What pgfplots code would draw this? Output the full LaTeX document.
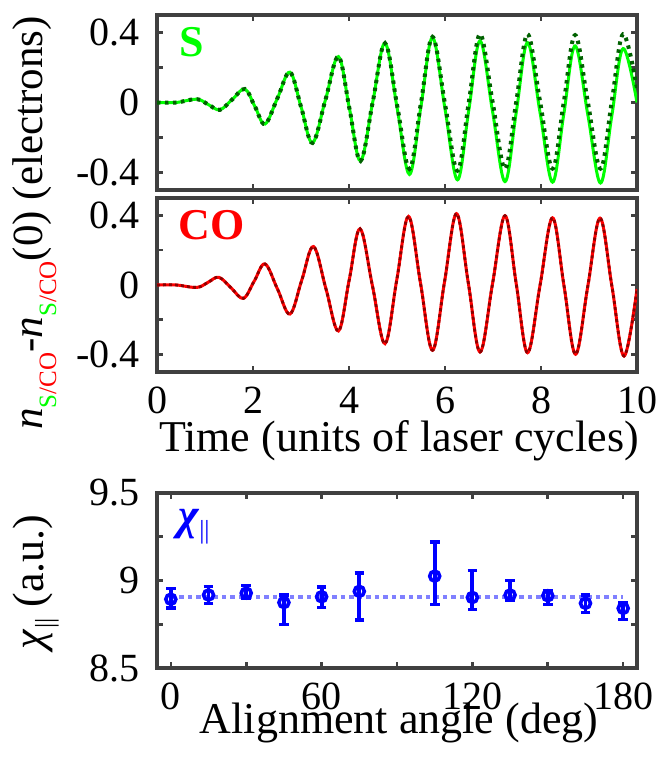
\documentclass[border=0pt]{standalone}
\usepackage{fontspec}
\setmainfont{Liberation Serif}
\usepackage{pgfplots}
\pgfplotsset{compat=1.18}
\usepackage{pgfplotstable}

\definecolor{framegray}{gray}{0.25}
\definecolor{dkgreen}{rgb}{0.0,0.38,0.0}
\definecolor{dkred}{rgb}{0.55,0,0}
\definecolor{fitblue}{rgb}{0.5,0.5,1}

\pgfplotstableread{
t v
0 0
0.4 0
0.83 0.019
1.07 -0.012
1.31 -0.042
1.57 0.018
1.83 0.077
2.04 -0.023
2.25 -0.123
2.51 0.025
2.77 0.173
3.005 -0.029
3.24 -0.231
3.51 0.016
3.78 0.262
4.01 -0.036
4.24 -0.334
4.495 0.003
4.75 0.339
5.005 -0.036
5.26 -0.411
5.5 -0.02
5.74 0.371
6.0 -0.036
6.26 -0.442
6.495 -0.045
6.73 0.352
6.99 -0.05
7.25 -0.452
7.485 -0.055
7.72 0.342
7.98 -0.057
8.24 -0.455
8.475 -0.066
8.71 0.323
8.975 -0.069
9.24 -0.46
9.475 -0.076
9.71 0.308
10 0.0
}\Sgreen

\pgfplotstableread{
t v
0 0
0.4 0
0.83 0.019
1.07 -0.012
1.31 -0.042
1.57 0.018
1.83 0.077
2.04 -0.023
2.25 -0.123
2.51 0.025
2.77 0.173
3.005 -0.029
3.24 -0.231
3.51 0.016
3.78 0.262
4.01 -0.036
4.24 -0.334
4.495 0.003
4.75 0.339
5.005 -0.02
5.26 -0.38
5.5 0.0
5.74 0.375
6.0 -0.008
6.26 -0.39
6.495 0.0
6.73 0.39
6.99 0.006
7.25 -0.378
7.485 0.006
7.72 0.39
7.98 0.006
8.24 -0.378
8.475 0.003
8.71 0.385
8.975 0.003
9.24 -0.378
9.475 0.006
9.71 0.39
10 0.08
}\Sdot

\pgfplotstableread{
t v
0 0
0.4 0
0.83 -0.014
1.06 0.015
1.29 0.044
1.545 -0.017
1.80 -0.077
2.025 0.022
2.25 0.121
2.51 -0.023
2.77 -0.167
3.015 0.027
3.26 0.221
3.52 -0.022
3.78 -0.264
4.005 0.03
4.23 0.323
4.49 -0.007
4.75 -0.337
4.995 0.029
5.24 0.394
5.49 0.01
5.74 -0.375
5.99 0.018
6.24 0.41
6.485 0.013
6.73 -0.385
6.99 0.007
7.25 0.398
7.485 0.005
7.72 -0.389
7.98 -0.002
8.24 0.386
8.48 -0.006
8.72 -0.398
8.975 -0.007
9.23 0.384
9.48 -0.012
9.73 -0.408
10 -0.023
}\COdata

\pgfplotstableread{
a v ep em
0 8.893 0.06 0.05
15 8.917 0.05 0.05
30 8.928 0.045 0.03
45 8.874 0.043 0.126
60 8.907 0.055 0.06
75 8.938 0.105 0.163
105 9.025 0.196 0.161
120 8.903 0.153 0.068
135 8.917 0.083 0.033
150 8.913 0.03 0.05
165 8.870 0.047 0.054
180 8.841 0.033 0.064
}\Chi

\pgfplotsset{
 panel/.style={
  scale only axis, width=480bp,
  axis line style={framegray, line width=3.2bp},
  every tick/.style={framegray, line width=2.6bp},
  major tick length=6bp,
  tick align=inside,
  tick pos=both,
  /pgf/number format/assume math mode=true,
  tick label style={font=\rmfamily\fontsize{40bp}{40bp}\selectfont},
  yticklabel style={anchor=east, inner sep=0pt, xshift=-17bp},
 }
}

\newcommand{\sco}{\raisebox{-14bp}{\fontsize{25bp}{25bp}\selectfont\textcolor{green}{S}\textcolor{red}{/CO}}}
\newcommand{\tl}[1]{\textrm{#1}}

\begin{document}
\begin{tikzpicture}
\useasboundingbox (0,0) rectangle (656bp,760bp);

% ---------- top panel: S ----------
\begin{axis}[panel, at={(157bp,570bp)}, anchor=south west, height=175bp,
  xmin=0, xmax=10, ymin=-0.5, ymax=0.5,
  xtick={0,2,4,6,8,10}, xticklabels={,,,,,},
  ytick={-0.4,-0.2,0,0.2,0.4}, yticklabels={\tl{-0.4},,\tl{0},,\tl{0.4}}]
\addplot[green, line width=3bp, smooth, tension=0.6] table[x=t,y=v] {\Sgreen};
\addplot[dkgreen, line width=4bp, smooth, tension=0.6, dash pattern=on 3.5bp off 4.5bp] table[x=t,y=v] {\Sdot};
\node[anchor=base west, inner sep=0pt, text=green, font=\fontsize{44bp}{44bp}\selectfont\bfseries] at (rel axis cs:0.047,0.76) {S};
\end{axis}

% ---------- middle panel: CO ----------
\begin{axis}[panel, at={(157bp,388bp)}, anchor=south west, height=174bp,
  xmin=0, xmax=10, ymin=-0.5, ymax=0.5,
  xtick={0,2,4,6,8,10}, xticklabels={\tl{0},\tl{2},\tl{4},\tl{6},\tl{8},\tl{10}},
  xticklabel style={anchor=north, inner sep=0pt, yshift=-15bp},
  ytick={-0.4,-0.2,0,0.2,0.4}, yticklabels={\tl{-0.4},,\tl{0},,\tl{0.4}}]
\addplot[red, line width=3bp, smooth, tension=0.6] table[x=t,y=v] {\COdata};
\addplot[dkred, line width=2.8bp, smooth, tension=0.6, dash pattern=on 3bp off 3bp] table[x=t,y=v] {\COdata};
\node[anchor=base west, inner sep=0pt, text=red, font=\fontsize{44bp}{44bp}\selectfont\bfseries] at (rel axis cs:0.045,0.76) {CO};
\end{axis}

% ---------- bottom panel: chi ----------
\begin{axis}[panel, at={(157bp,92bp)}, anchor=south west, height=175bp,
  xmin=-5.5, xmax=185.5, ymin=8.5, ymax=9.5,
  xtick={0,30,...,180}, xticklabels={\tl{0},,\tl{60},,\tl{120},,\tl{180}},
  xticklabel style={anchor=north, inner sep=0pt, yshift=-15bp},
  ytick={8.5,8.75,9,9.25,9.5}, yticklabels={\tl{8.5},,\tl{9},,\tl{9.5}}]
\addplot[fitblue, line width=4bp, dash pattern=on 4.5bp off 4bp] coordinates {(0,8.903) (180,8.903)};
\addplot[blue, line width=3.6bp, mark=o, mark size=5bp, only marks,
  mark options={line width=3.6bp, solid, blue},
  error bars/.cd, y dir=both, y explicit,
  error bar style={line width=3.8bp, blue, solid},
  error mark options={rotate=90, mark size=4.8bp, line width=3.4bp, blue}]
  table[x=a, y=v, y error plus=ep, y error minus=em] {\Chi};
\node[anchor=base west, inner sep=0pt, text=blue, font=\fontsize{44bp}{44bp}\selectfont] at (rel axis cs:0.045,0.79) {{\bfseries\itshape χ}{\fontsize{26bp}{26bp}\selectfont\raisebox{-9bp}{||}}};
\end{axis}

% ---------- labels ----------
\node[anchor=base, inner sep=0pt, font=\fontsize{44bp}{44bp}\selectfont] at (399bp,308bp) {Time (units of laser cycles)};
\node[anchor=base, inner sep=0pt, font=\fontsize{44bp}{44bp}\selectfont] at (399bp,27bp) {Alignment angle (deg)};
\node[anchor=base, rotate=90, inner sep=0pt, font=\fontsize{43bp}{43bp}\selectfont] at (42bp,537bp) {\textit{n}\sco-\textit{n}\sco(0) (electrons)};
\node[anchor=base, rotate=90, inner sep=0pt, font=\fontsize{44bp}{44bp}\selectfont] at (43bp,178bp) {\textit{χ}{\fontsize{26bp}{26bp}\selectfont\raisebox{-10bp}{||}} (a.u.)};
\end{tikzpicture}
\end{document}
